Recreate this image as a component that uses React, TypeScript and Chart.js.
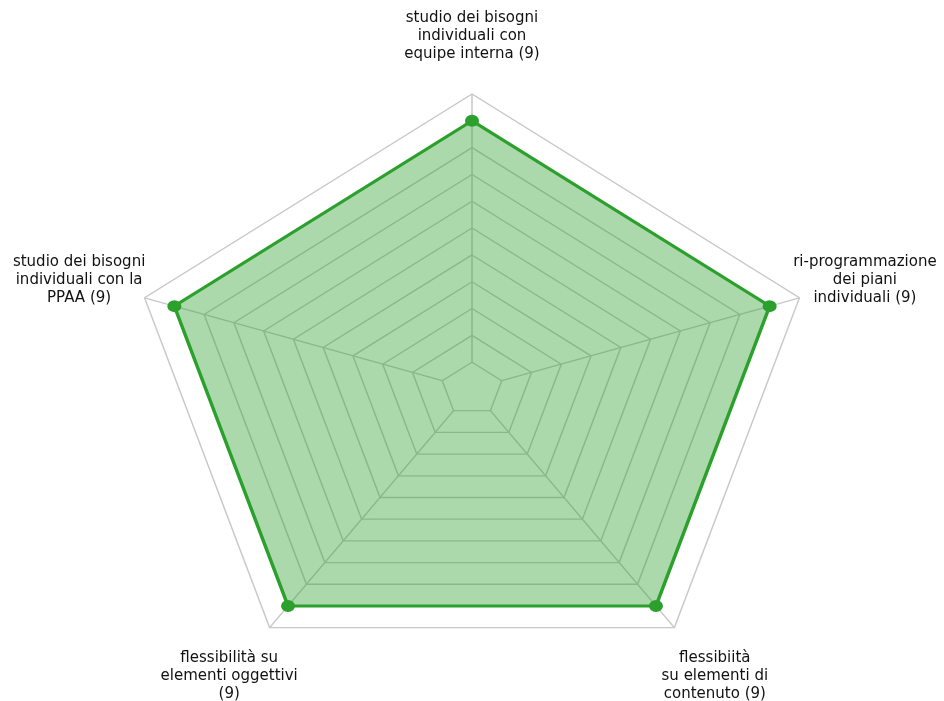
import React, { useEffect, useRef } from "react";
import { Chart, registerables } from "chart.js";

Chart.register(...registerables);

const categories: string[][] = [
  ["studio dei bisogni", "individuali con", "equipe interna (9)"],
  ["ri-programmazione", "dei piani", "individuali (9)"],
  ["flessibiità", "su elementi di", "contenuto (9)"],
  ["flessibilità su", "elementi oggettivi", "(9)"],
  ["studio dei bisogni", "individuali con la", "PPAA (9)"],
];
const values: number[] = [9, 9, 9, 9, 9];
const scaleMin = -1;
const scaleMax = 10;
const spokeFrom = 0;

const GREEN = "#2ca02c";
const GRID = "#c8c8c8";
const STRETCH = 1.167;
const FONT = '15px "DejaVu Sans"';

const stretchPlugin = {
  id: "stretchRadar",
  beforeDraw(chart: any) {
    const s = chart.scales.r;
    const ctx = chart.ctx;
    ctx.save();
    ctx.translate(s.xCenter, 0);
    ctx.scale(STRETCH, 1);
    ctx.translate(-s.xCenter, 0);
  },
  beforeDatasetsDraw(chart: any) {
    const s = chart.scales.r;
    const ctx = chart.ctx;
    ctx.save();
    ctx.strokeStyle = GRID;
    ctx.lineWidth = 1.3;
    for (let i = 0; i < categories.length; i++) {
      const a = s.getPointPosition(i, s.getDistanceFromCenterForValue(spokeFrom));
      const b = s.getPointPosition(i, s.getDistanceFromCenterForValue(scaleMax));
      ctx.beginPath();
      ctx.moveTo(a.x, a.y);
      ctx.lineTo(b.x, b.y);
      ctx.stroke();
    }
    ctx.restore();
  },
  afterDatasetsDraw(chart: any) {
    chart.ctx.restore();
  },
  afterDraw(chart: any) {
    const s = chart.scales.r;
    const ctx = chart.ctx;
    ctx.save();
    ctx.font = FONT;
    ctx.fillStyle = "#111111";
    ctx.textAlign = "center";
    ctx.textBaseline = "middle";
    const lh = 18;
    categories.forEach((lines, i) => {
      const p = s.getPointPosition(i, s.drawingArea * 1.2);
      const x = s.xCenter + (p.x - s.xCenter) * STRETCH;
      lines.forEach((t, j) => {
        ctx.fillText(t, x, p.y + 1 + (j - (lines.length - 1) / 2) * lh);
      });
    });
    ctx.restore();
  },
};

export default function App() {
  const ref = useRef<HTMLCanvasElement>(null);
  useEffect(() => {
    if (!ref.current) return;
    const chart = new Chart(ref.current, {
      type: "radar",
      data: {
        labels: categories,
        datasets: [
          {
            data: values,
            borderColor: GREEN,
            backgroundColor: "rgba(44,160,44,0.4)",
            borderWidth: 3,
            fill: "start",
            pointRadius: 6,
            pointBorderWidth: 0,
            pointBackgroundColor: GREEN,
            pointBorderColor: GREEN,
            clip: false as any,
          },
        ],
      },
      options: {
        responsive: false,
        animation: false,
        layout: { padding: { top: 94, bottom: 16, left: 0, right: 0 } },
        plugins: { legend: { display: false }, tooltip: { enabled: false } },
        scales: {
          r: {
            min: scaleMin,
            max: scaleMax,
            beginAtZero: false,
            ticks: { stepSize: 1, display: false },
            grid: { color: GRID, lineWidth: 1.3 },
            angleLines: { display: false },
            pointLabels: { display: false },
          },
        },
      },
      plugins: [stretchPlugin],
    });
    return () => chart.destroy();
  }, []);
  return (
    <div style={{ position: "fixed", left: 0, top: 0, width: 944, height: 701, background: "#fff" }}>
      <canvas ref={ref} width={944} height={701} />
    </div>
  );
}
